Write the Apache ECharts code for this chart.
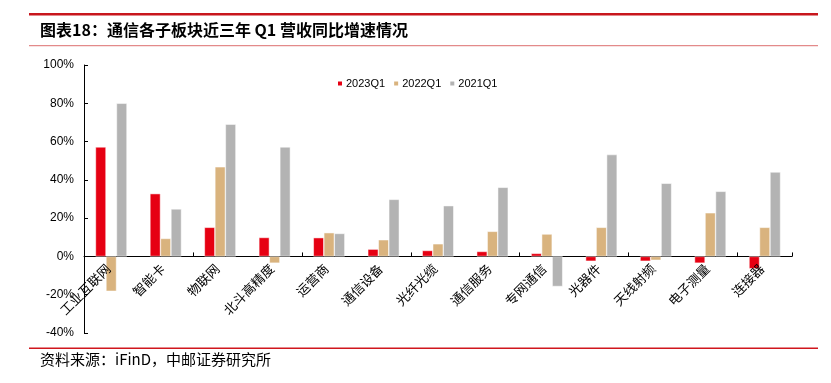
<!DOCTYPE html>
<html><head><meta charset="utf-8">
<script src="https://cdn.jsdelivr.net/npm/echarts@6/dist/echarts.min.js"></script>
<style>html,body{margin:0;padding:0;background:#fff}#c{width:831px;height:383px}</style>
</head><body><div id="c"></div>
<script>
var categories = ['工业互联网','智能卡','物联网','北斗高精度','运营商','通信设备','光纤光缆','通信服务','专网通信','光器件','天线射频','电子测量','连接器'];
var s2023 = [57.2, 32.8, 15.2, 9.9, 9.8, 3.8, 3.1, 2.6, 1.6, -2.5, -2.5, -3.5, -6.4];
var s2022 = [-18.2, 9.4, 46.8, -3.5, 12.4, 8.7, 6.6, 13.1, 11.7, 15.2, -2.0, 22.8, 15.2];
var s2021 = [80.0, 24.8, 69.1, 57.2, 12.0, 29.8, 26.5, 36.1, -15.7, 53.2, 38.2, 34.0, 44.1];
var seriesNames = ['2023Q1','2022Q1','2021Q1'];
var titleText = '图表18：通信各子板块近三年 Q1 营收同比增速情况';
var sourceText = '资料来源：iFinD，中邮证券研究所';

var chart = echarts.init(document.getElementById('c'), null, {renderer:'canvas'});
function bar(name, data, color){
  return {name:name, type:'bar', data:data, barWidth:10.5, barGap:'0%',
    itemStyle:{color:color, borderColor:'#fff', borderWidth:0.5}};
}
var labelSeries = {
  type:'custom', name:'labels', silent:true, z:5,
  data: categories.map(function(c, i){ return [i, 0]; }),
  renderItem: function(params, api){
    var p = api.coord([api.value(0), 0]);
    return {type:'text', x:p[0]-3, y:p[1]+10, rotation:Math.PI/4,
      style:{text:categories[params.dataIndex], font:'13px "Noto Sans CJK SC", sans-serif',
        fill:'#000', align:'right', verticalAlign:'middle'}};
  }
};
chart.setOption({
  animation:false,
  backgroundColor:'#fff',
  grid:{left:84, right:39, top:65, bottom:50, containLabel:false, outerBoundsMode:'none'},
  legend:{top:73, left:331, itemWidth:6, itemHeight:6, itemGap:7, icon:'rect',
    textStyle:{fontFamily:'Arial, "Liberation Sans"', fontSize:11, color:'#000', padding:[0,0,0,-2]},
    data:seriesNames},
  xAxis:{type:'category', data:categories,
    axisLine:{onZero:true, lineStyle:{color:'#000', width:1}},
    axisTick:{show:true, inside:true, length:4, lineStyle:{color:'#000'}},
    axisLabel:{show:false}},
  yAxis:{type:'value', min:-40, max:100, interval:20,
    splitLine:{show:false},
    axisLine:{show:true, lineStyle:{color:'#000', width:1}},
    axisTick:{show:true, inside:true, length:4, lineStyle:{color:'#000'}},
    axisLabel:{formatter:function(v){return v+'%';}, fontFamily:'Arial, "Liberation Sans"', fontSize:12, color:'#000', margin:10}},
  series:[bar(seriesNames[0], s2023, '#E60012'), bar(seriesNames[1], s2022, '#D9B37E'), bar(seriesNames[2], s2021, '#B3B3B3'), labelSeries],
  graphic:[
    {type:'rect', shape:{x:29, y:13, width:789, height:2.5}, style:{fill:'#C8161D'}},
    {type:'text', left:40, top:22, style:{text:titleText, font:'bold 16px "Noto Sans CJK SC", sans-serif', fill:'#000'}},
    {type:'rect', shape:{x:29, y:45, width:789, height:1.2}, style:{fill:'#E38A8A'}},
    {type:'rect', shape:{x:29, y:347.5, width:789, height:1.5}, style:{fill:'#D0161D'}},
    {type:'text', left:40, top:352, style:{text:sourceText, font:'15px "Noto Sans CJK SC", sans-serif', fill:'#000'}}
  ]
});
</script></body></html>
